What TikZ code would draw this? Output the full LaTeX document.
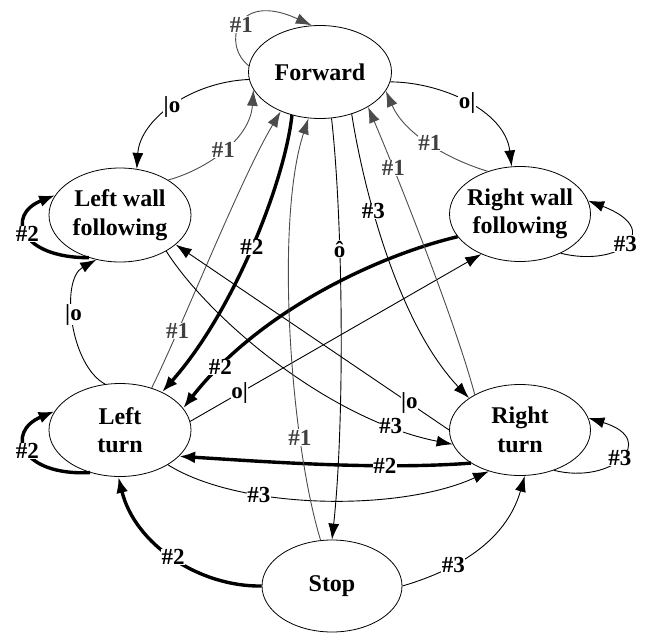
\documentclass[tikz,border=0pt]{standalone}
\usepackage{fontspec}
\setmainfont{Liberation Serif}
\usetikzlibrary{arrows.meta,shapes.geometric}
\begin{document}
\begin{tikzpicture}[x=1pt,y=-1pt,
  state/.style={ellipse,draw,line width=0.8pt,inner xsep=-4pt,inner ysep=0pt,align=center,
    font=\fontsize{24}{28.5}\selectfont\bfseries},
  tr/.style={line width=0.9pt,-{Latex[length=16pt,width=11pt]}},
  gr/.style={tr,draw=black!70},
  thk/.style={line width=3.4pt,-{Latex[length=16pt,width=12pt]}},
  lab/.style={fill=white,inner sep=0.5pt,font=\fontsize{23}{23}\selectfont\bfseries},
  glab/.style={lab,text=black!75},
]
\useasboundingbox (0,0) rectangle (645,634);

\node[state,minimum width=143pt,minimum height=93pt] (F) at (320,72) {Forward};
\node[state,minimum width=142pt,minimum height=94pt] (LW) at (120,215) {Left wall\\following};
\node[state,minimum width=141pt,minimum height=95pt] (RW) at (520,214) {Right wall\\following};
\node[state,minimum width=142pt,minimum height=93pt] (LT) at (120,430) {Left\\turn};
\node[state,minimum width=141pt,minimum height=91pt] (RT) at (520,430) {Right\\turn};
\node[state,minimum width=140pt,minimum height=92pt] (S) at (332,586) {Stop};

% edges
\draw[gr] (F.175) .. controls (222,45) and (235,-10) .. coordinate[pos=0.5] (c1) (F.100);
\draw[tr] (F.186) .. controls (190,82) and (140,120) .. coordinate[pos=0.5] (c2) (LW.70);
\draw[gr] (LW.36) .. controls (205,170) and (250,140) .. coordinate[pos=0.5] (c3) (F.195);
\draw[thk] (LW.234) .. controls (20,258) and (5,215) .. coordinate[pos=0.5] (c4) (LW.163);
\draw[tr] (LT.108) .. controls (70,365) and (60,280) .. coordinate[pos=0.55] (c5) (LW.242);
\draw[gr] (LT.53) .. controls (185,320) and (240,180) .. coordinate[pos=0.23] (c6) (F.225);
\draw[thk] (F.237) .. controls (285,180) and (235,310) .. coordinate[pos=0.5] (c7) (LT.42);
\draw[thk] (RW.200) .. controls (380,255) and (260,310) .. coordinate[pos=0.85] (c8) (LT.19);
\draw[tr] (LT.7) -- coordinate[pos=0.17] (c9) (RW.226);
\draw[tr] (RT.180) -- coordinate[pos=0.145] (c10) (LW.332);
\draw[tr] (LW.322) .. controls (210,320) and (330,420) .. coordinate[pos=0.83] (c11) (RT.192);
\draw[tr] (F.307) .. controls (362,180) and (395,320) .. coordinate[pos=0.37] (c12) (RT.148);
\draw[gr] (RT.142) .. controls (455,320) and (395,170) .. coordinate[pos=0.75] (c13) (F.324);
\draw[tr] (F.352) .. controls (440,82) and (505,110) .. coordinate[pos=0.5] (c14) (RW.100);
\draw[gr] (RW.127) .. controls (450,160) and (405,135) .. coordinate[pos=0.5] (c15) (F.344);
\draw[tr] (RW.316) .. controls (620,268) and (665,230) .. coordinate[pos=0.5] (c16) (RW.11);
\draw[tr] (RT.310) .. controls (612,485) and (660,440) .. coordinate[pos=0.5] (c17) (RT.10);
\draw[tr] (S.0) .. controls (450,572) and (505,545) .. coordinate[pos=0.35] (c18) (RT.276);
\draw[thk] (S.180) .. controls (200,587) and (135,545) .. coordinate[pos=0.5] (c19) (LT.268);
\draw[thk] (LT.235) .. controls (20,476) and (5,432) .. coordinate[pos=0.5] (c20) (LT.164);
\draw[thk] (RT.214) .. controls (380,470) and (270,462) .. coordinate[pos=0.3] (c21) (LT.336);
\draw[tr] (LT.324) .. controls (240,510) and (400,512) .. coordinate[pos=0.32] (c22) (RT.233);
\draw[tr] (F.284) .. controls (343,220) and (345,420) .. coordinate[pos=0.34] (c23) (S.90);
\draw[gr] (S.104) .. controls (290,440) and (275,220) .. coordinate[pos=0.27] (c24) (F.256);

% labels
\node[glab] (l1) at (c1) {\#1};
\node[lab] (l2) at (c2) {|o};
\node[glab] (l3) at (c3) {\#1};
\node[lab] (l4) at (c4) {\#2};
\node[lab] (l5) at (c5) {|o};
\node[glab] (l6) at (c6) {\#1};
\node[lab] (l7) at (c7) {\#2};
\node[lab] (l8) at (c8) {\#2};
\node[lab] (l9) at (c9) {o|};
\node[lab] (l10) at (c10) {|o};
\node[lab] (l11) at (c11) {\#3};
\node[lab] (l12) at (c12) {\#3};
\node[glab] (l13) at (c13) {\#1};
\node[lab] (l14) at (c14) {o|};
\node[glab] (l15) at (c15) {\#1};
\node[lab] (l16) at (c16) {\#3};
\node[lab] (l17) at (c17) {\#3};
\node[lab] (l18) at (c18) {\#3};
\node[lab] (l19) at (c19) {\#2};
\node[lab] (l20) at (c20) {\#2};
\node[lab] (l21) at (c21) {\#2};
\node[lab] (l22) at (c22) {\#3};
\node[lab] (l23) at (c23) {ô};
\node[glab] (l24) at (c24) {\#1};
\end{tikzpicture}
\end{document}
